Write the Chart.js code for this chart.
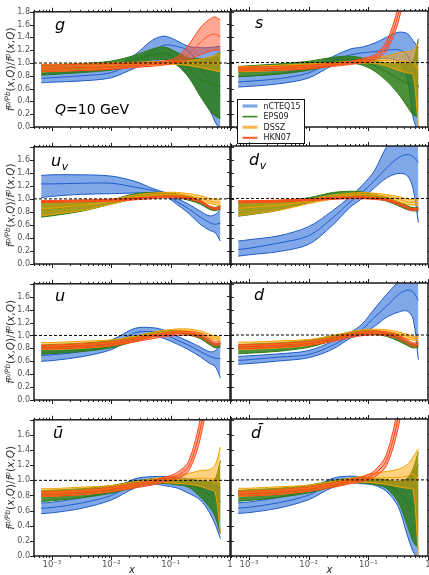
<!DOCTYPE html>
<html><head><meta charset="utf-8">
<script src="https://cdn.jsdelivr.net/npm/chart.js@4.4.1/dist/chart.umd.min.js"></script>
<style>
html,body{margin:0;padding:0;background:#fff;width:429px;height:575px;overflow:hidden;position:relative}
canvas{position:absolute}
</style>
</head><body>
<script>
// ---------- data ----------
const xGrid = [6.6e-4, 1e-3, 3.16e-3, 1e-2, 2.5e-2, 5e-2, 7.9e-2, 0.126, 0.2, 0.316, 0.447, 0.562, 0.69];
const xTickLabels = {'-3':'10⁻³','-2':'10⁻²','-1':'10⁻¹','0':'1'};
const yTicks = [0,0.2,0.4,0.6,0.8,1.0,1.2,1.4,1.6,1.8];
const seriesNames = ['nCTEQ15','EPS09','DSSZ','HKN07'];
// each series: [lower, central, upper]
// g
const g_nCTEQ15 = [[0.69,0.70,0.72,0.77,0.92,1.02,1.05,1.00,0.79,0.52,0.28,0.08,-0.05],
                   [0.76,0.77,0.80,0.85,1.02,1.19,1.28,1.26,1.19,0.92,0.75,0.61,0.48],
                   [0.83,0.84,0.87,0.93,1.13,1.36,1.42,1.35,1.26,1.24,1.24,1.25,1.26]];
const g_EPS09   = [[0.81,0.82,0.85,0.89,0.97,1.05,1.05,0.97,0.78,0.48,0.27,0.17,0.13],
                   [0.88,0.89,0.92,0.96,1.05,1.13,1.15,1.05,0.93,0.75,0.70,0.66,0.64],
                   [0.96,0.97,0.99,1.03,1.12,1.22,1.25,1.17,1.08,1.07,1.08,1.12,1.17]];
const g_DSSZ    = [[0.86,0.87,0.89,0.92,0.95,0.97,0.98,0.98,0.96,0.93,0.90,0.88,0.86],
                   [0.92,0.92,0.94,0.96,0.98,1.00,1.01,1.01,1.00,0.99,0.99,1.00,1.00],
                   [0.98,0.98,0.99,1.00,1.01,1.02,1.03,1.03,1.04,1.06,1.09,1.12,1.15]];
const g_HKN07   = [[0.87,0.87,0.88,0.90,0.93,0.95,0.97,1.00,1.05,1.13,1.18,1.20,1.20],
                   [0.92,0.92,0.93,0.94,0.96,0.98,1.00,1.04,1.14,1.32,1.43,1.45,1.41],
                   [0.97,0.97,0.98,0.99,1.00,1.01,1.03,1.09,1.28,1.55,1.68,1.72,1.67]];
// s
const s_nCTEQ15 = [[0.62,0.63,0.67,0.76,0.95,1.01,1.04,1.05,1.06,1.02,0.75,0.15,-0.10],
                   [0.70,0.71,0.75,0.84,1.02,1.12,1.15,1.17,1.19,1.20,1.12,0.90,0.62],
                   [0.78,0.79,0.83,0.92,1.09,1.21,1.24,1.30,1.39,1.47,1.45,1.34,1.23]];
const s_EPS09   = [[0.78,0.79,0.82,0.88,0.96,0.99,0.96,0.87,0.72,0.52,0.32,0.19,0.15],
                   [0.86,0.87,0.90,0.95,1.02,1.05,1.02,0.95,0.86,0.75,0.68,0.66,0.62],
                   [0.94,0.95,0.98,1.02,1.08,1.10,1.07,1.03,0.99,0.99,0.99,1.02,1.37]];
const s_DSSZ    = [[0.86,0.86,0.88,0.92,0.96,0.98,0.99,0.99,0.95,0.88,0.84,0.81,0.00],
                   [0.90,0.90,0.92,0.95,0.98,1.00,1.01,1.03,1.03,1.02,1.01,1.00,0.90],
                   [0.94,0.94,0.96,0.98,1.00,1.02,1.04,1.08,1.10,1.15,1.17,1.19,1.30]];
const s_HKN07   = [[0.87,0.87,0.88,0.90,0.94,0.97,1.00,1.04,1.18,1.62,2.30,2.90,3.40],
                   [0.90,0.90,0.91,0.93,0.96,0.99,1.03,1.08,1.25,1.74,2.50,3.20,3.80],
                   [0.93,0.93,0.94,0.96,0.99,1.02,1.06,1.12,1.32,1.87,2.70,3.50,4.20]];
// u_v
const uv_nCTEQ15 = [[1.02,1.04,1.07,1.08,1.09,1.09,1.05,0.92,0.78,0.61,0.52,0.48,0.35],
                    [1.23,1.23,1.24,1.24,1.18,1.13,1.07,0.96,0.85,0.72,0.64,0.61,0.63],
                    [1.36,1.37,1.37,1.35,1.27,1.16,1.10,1.01,0.92,0.81,0.74,0.76,0.83]];
const uv_EPS09   = [[0.72,0.74,0.81,0.92,1.00,1.03,1.04,1.02,0.98,0.92,0.84,0.82,0.84],
                    [0.84,0.85,0.89,0.96,1.04,1.07,1.07,1.05,1.01,0.95,0.86,0.84,0.87],
                    [0.96,0.96,0.97,0.99,1.08,1.10,1.10,1.08,1.04,0.98,0.89,0.87,0.90]];
const uv_DSSZ    = [[0.74,0.76,0.82,0.92,1.00,1.03,1.04,1.04,1.02,0.98,0.93,0.91,0.90],
                    [0.85,0.86,0.90,0.96,1.03,1.06,1.07,1.07,1.05,1.01,0.97,0.95,0.95],
                    [0.96,0.96,0.97,0.99,1.06,1.09,1.10,1.10,1.08,1.05,1.01,0.99,0.99]];
const uv_HKN07   = [[0.945,0.945,0.955,0.965,0.985,1.005,1.015,1.015,0.995,0.945,0.865,0.835,0.85],
                    [0.96,0.96,0.97,0.98,1.00,1.02,1.03,1.03,1.01,0.96,0.88,0.85,0.87],
                    [0.975,0.975,0.985,0.995,1.015,1.035,1.045,1.045,1.025,0.975,0.895,0.865,0.89]];
// d_v
const dv_nCTEQ15 = [[0.12,0.14,0.19,0.30,0.59,0.87,1.00,1.16,1.31,1.38,1.35,1.15,0.63],
                    [0.22,0.24,0.32,0.43,0.70,0.95,1.09,1.27,1.46,1.62,1.67,1.64,1.55],
                    [0.35,0.37,0.43,0.57,0.81,1.03,1.20,1.42,1.78,2.00,2.05,2.05,2.00]];
const dv_EPS09   = [[0.73,0.75,0.82,0.94,1.01,1.03,1.02,1.00,0.96,0.89,0.83,0.81,0.81],
                    [0.85,0.86,0.90,0.98,1.05,1.07,1.06,1.03,0.99,0.92,0.86,0.83,0.83],
                    [0.96,0.96,0.97,1.01,1.09,1.11,1.10,1.06,1.02,0.95,0.89,0.86,0.86]];
const dv_DSSZ    = [[0.74,0.76,0.82,0.92,0.99,1.02,1.03,1.02,0.99,0.95,0.91,0.90,0.89],
                    [0.85,0.86,0.90,0.96,1.02,1.05,1.06,1.05,1.03,0.99,0.95,0.94,0.94],
                    [0.96,0.96,0.97,0.99,1.05,1.08,1.09,1.08,1.06,1.03,0.99,0.98,0.98]];
const dv_HKN07   = [[0.935,0.935,0.945,0.965,0.985,0.995,0.995,0.985,0.965,0.905,0.845,0.815,0.825],
                    [0.95,0.95,0.96,0.98,1.00,1.01,1.01,1.00,0.98,0.92,0.86,0.83,0.84],
                    [0.965,0.965,0.975,0.995,1.015,1.025,1.025,1.015,0.995,0.935,0.875,0.845,0.855]];
// u
const u_nCTEQ15 = [[0.60,0.61,0.67,0.78,0.97,1.00,0.95,0.87,0.78,0.67,0.57,0.52,0.34],
                   [0.69,0.70,0.75,0.85,1.04,1.06,1.02,0.93,0.85,0.75,0.68,0.65,0.64],
                   [0.79,0.80,0.84,0.93,1.11,1.12,1.08,0.99,0.91,0.82,0.75,0.76,0.89]];
const u_EPS09   = [[0.71,0.72,0.75,0.81,0.91,0.98,1.02,1.03,1.01,0.95,0.86,0.81,0.82],
                   [0.78,0.79,0.82,0.87,0.95,1.01,1.04,1.05,1.03,0.97,0.89,0.84,0.85],
                   [0.85,0.86,0.88,0.92,0.99,1.04,1.07,1.08,1.05,0.99,0.92,0.87,0.88]];
const u_DSSZ    = [[0.78,0.78,0.80,0.84,0.92,0.99,1.02,1.04,1.04,1.01,0.96,0.93,0.92],
                   [0.84,0.84,0.86,0.89,0.96,1.02,1.05,1.07,1.07,1.04,0.99,0.96,0.95],
                   [0.89,0.89,0.91,0.93,0.99,1.05,1.08,1.10,1.10,1.07,1.02,0.99,0.98]];
const u_HKN07   = [[0.79,0.79,0.81,0.84,0.90,0.95,0.98,1.00,1.00,0.97,0.89,0.84,0.85],
                   [0.82,0.82,0.84,0.87,0.93,0.98,1.01,1.03,1.03,1.00,0.92,0.87,0.88],
                   [0.85,0.85,0.87,0.90,0.96,1.01,1.04,1.06,1.06,1.03,0.95,0.90,0.91]];
// d
const d_nCTEQ15 = [[0.55,0.56,0.60,0.65,0.78,0.95,1.02,1.13,1.27,1.35,1.37,1.25,0.62],
                   [0.61,0.62,0.66,0.70,0.84,0.99,1.09,1.27,1.44,1.62,1.69,1.66,1.53],
                   [0.67,0.68,0.71,0.76,0.90,1.04,1.17,1.40,1.62,1.82,2.00,2.05,2.00]];
const d_EPS09   = [[0.71,0.72,0.75,0.81,0.91,0.98,1.01,1.01,0.98,0.91,0.84,0.80,0.81],
                   [0.78,0.79,0.82,0.87,0.95,1.01,1.04,1.04,1.01,0.94,0.87,0.83,0.84],
                   [0.85,0.86,0.88,0.92,0.99,1.04,1.07,1.07,1.04,0.97,0.90,0.86,0.87]];
const d_DSSZ    = [[0.78,0.78,0.80,0.84,0.92,0.99,1.02,1.03,1.02,0.98,0.94,0.92,0.91],
                   [0.84,0.84,0.86,0.89,0.96,1.02,1.05,1.06,1.05,1.02,0.98,0.95,0.95],
                   [0.89,0.89,0.91,0.93,0.99,1.05,1.08,1.09,1.08,1.05,1.01,0.98,0.98]];
const d_HKN07   = [[0.79,0.79,0.81,0.84,0.90,0.96,0.99,1.00,0.99,0.94,0.87,0.82,0.83],
                   [0.82,0.82,0.84,0.87,0.93,0.99,1.02,1.03,1.02,0.97,0.90,0.85,0.86],
                   [0.85,0.85,0.87,0.90,0.96,1.02,1.05,1.06,1.05,1.00,0.93,0.88,0.89]];
// u-bar
const ub_nCTEQ15 = [[0.56,0.57,0.63,0.74,0.90,0.95,0.93,0.90,0.83,0.74,0.58,0.42,0.23],
                    [0.63,0.64,0.70,0.80,0.96,1.00,1.00,0.98,0.95,0.91,0.87,0.80,0.71],
                    [0.70,0.71,0.77,0.87,1.02,1.05,1.05,1.04,1.02,0.99,0.96,0.93,0.90]];
const ub_EPS09   = [[0.72,0.73,0.77,0.83,0.91,0.96,0.96,0.94,0.91,0.78,0.65,0.52,0.30],
                    [0.79,0.80,0.83,0.88,0.95,0.99,1.00,0.98,0.95,0.89,0.80,0.74,0.72],
                    [0.86,0.87,0.89,0.93,0.99,1.02,1.03,1.02,1.00,1.00,0.98,1.02,1.26]];
const ub_DSSZ    = [[0.78,0.79,0.81,0.85,0.92,0.96,0.97,0.96,0.95,0.92,0.88,0.84,0.30],
                    [0.84,0.84,0.86,0.89,0.95,0.99,1.01,1.01,1.02,1.03,1.02,1.02,0.95],
                    [0.89,0.89,0.91,0.93,0.98,1.02,1.04,1.06,1.09,1.13,1.14,1.20,1.44]];
const ub_HKN07   = [[0.79,0.79,0.81,0.85,0.90,0.94,0.98,1.02,1.12,1.55,2.25,2.95,3.60],
                    [0.82,0.82,0.84,0.88,0.93,0.97,1.01,1.06,1.18,1.68,2.45,3.25,4.00],
                    [0.85,0.85,0.87,0.91,0.96,1.00,1.04,1.10,1.25,1.82,2.65,3.55,4.40]];
// d-bar
const db_nCTEQ15 = [[0.56,0.57,0.63,0.74,0.90,0.96,0.95,0.93,0.85,0.65,0.28,0.06,-0.05],
                    [0.63,0.64,0.70,0.80,0.96,1.00,1.00,0.98,0.93,0.85,0.74,0.67,0.60],
                    [0.70,0.71,0.77,0.87,1.02,1.05,1.04,1.02,1.00,0.98,1.02,1.10,1.20]];
const db_EPS09   = [[0.72,0.73,0.77,0.83,0.91,0.96,0.96,0.94,0.89,0.71,0.41,0.19,0.10],
                    [0.79,0.80,0.83,0.88,0.95,0.99,1.00,0.99,0.95,0.85,0.69,0.54,0.49],
                    [0.86,0.87,0.89,0.93,0.99,1.02,1.03,1.02,1.00,0.98,1.02,1.15,1.37]];
const db_DSSZ    = [[0.78,0.79,0.81,0.85,0.92,0.96,0.97,0.96,0.94,0.91,0.89,0.87,0.00],
                    [0.84,0.84,0.86,0.89,0.95,0.99,1.01,1.02,1.03,1.03,1.05,1.08,1.00],
                    [0.89,0.89,0.91,0.93,0.98,1.02,1.05,1.09,1.11,1.14,1.20,1.30,1.41]];
const db_HKN07   = [[0.79,0.79,0.81,0.85,0.90,0.95,0.98,1.04,1.18,1.68,2.40,3.10,3.80],
                    [0.82,0.82,0.84,0.88,0.93,0.98,1.01,1.08,1.25,1.82,2.60,3.40,4.20],
                    [0.85,0.85,0.87,0.91,0.96,1.01,1.04,1.12,1.33,1.97,2.80,3.70,4.60]];

const panelLabels = [['g',''],['s',''],['u','v'],['d','v'],['u',''],['d',''],['ū',''],['d̄','']];
const panelSeries = [
  [g_nCTEQ15, g_EPS09, g_DSSZ, g_HKN07],
  [s_nCTEQ15, s_EPS09, s_DSSZ, s_HKN07],
  [uv_nCTEQ15, uv_EPS09, uv_DSSZ, uv_HKN07],
  [dv_nCTEQ15, dv_EPS09, dv_DSSZ, dv_HKN07],
  [u_nCTEQ15, u_EPS09, u_DSSZ, u_HKN07],
  [d_nCTEQ15, d_EPS09, d_DSSZ, d_HKN07],
  [ub_nCTEQ15, ub_EPS09, ub_DSSZ, ub_HKN07],
  [db_nCTEQ15, db_EPS09, db_DSSZ, db_HKN07]
];

// ---------- styles & layout ----------
const setStyles = [
  {fill:'rgba(60,120,220,0.65)', line:'#1f5cc8', legend:'#7ba6e6', lw:3.2},
  {fill:'rgba(45,125,25,0.85)',  line:'#2a7a12', legend:'#3a8a22', lw:1.6},
  {fill:'rgba(255,165,0,0.5)',   line:'#f5a000', legend:'#fbb548', lw:3},
  {fill:'rgba(255,80,40,0.5)',   line:'#ff4a1a', legend:'#ff5a2a', lw:2}
];
const rowsY = [[11,146],[146,283],[283,419],[419,556]];
const colsX = [[34,230],[231,428]];
const labelOffsets = [[21,18],[24,17],[17,19],[18,19],[21,17],[23,17],[19,18],[20,19]];
const FONT = '"DejaVu Sans", sans-serif';

const xAllTicks = [];
for (let k = -4; k <= 0; k++) for (let m = 1; m <= 9; m++) {
  const v = Number((m * Math.pow(10, k)).toPrecision(6));
  if (v >= 5e-4 && v <= 1) xAllTicks.push(v);
}
function decadeOf(v){ const l = Math.log10(v); return Math.abs(l - Math.round(l)) < 1e-9 ? Math.round(l) : null; }

function drawRich(ctx, segs, size) {
  let total = 0;
  const parts = segs.map(([t, kind]) => {
    const sz = kind === 'sup' ? size*0.7 : size;
    const style = (kind === 'i' || kind === 'sup') ? 'italic ' : '';
    ctx.font = style + sz + 'px ' + FONT;
    const w = ctx.measureText(t).width;
    total += w;
    return {t, kind, font: ctx.font, w};
  });
  let x = -total/2;
  for (const p of parts) {
    ctx.font = p.font;
    ctx.fillText(p.t, x, p.kind === 'sup' ? -size*0.42 : 0);
    x += p.w;
  }
}

const decorPlugin = {
  id: 'decor',
  afterDatasetsDraw(chart) {
    const o = chart.options.plugins.decor;
    const {ctx, chartArea: a} = chart;
    const xs = chart.scales.x, ys = chart.scales.y;
    ctx.save();
    ctx.strokeStyle = '#222'; ctx.lineWidth = 1;
    ctx.beginPath();
    for (const v of xAllTicks) {
      const px = Math.round(xs.getPixelForValue(v)) + 0.5;
      if (px < a.left - 0.5 || px > a.right + 1) continue;
      const L = decadeOf(v) !== null ? 4 : 2;
      ctx.moveTo(px, a.bottom); ctx.lineTo(px, a.bottom + L);
      ctx.moveTo(px, a.top); ctx.lineTo(px, a.top - L);
    }
    for (const v of yTicks) {
      const py = Math.round(ys.getPixelForValue(v)) + 0.5;
      ctx.moveTo(a.left, py); ctx.lineTo(a.left - 4, py);
      ctx.moveTo(a.right, py); ctx.lineTo(a.right + 4, py);
    }
    ctx.stroke();
    ctx.lineWidth = 1.5; ctx.strokeStyle = '#1a1a1a';
    ctx.strokeRect(a.left, a.top, a.right - a.left, a.bottom - a.top);

    const [main, sub] = panelLabels[o.index];
    const [dx, dy] = labelOffsets[o.index];
    ctx.fillStyle = '#000';
    ctx.textBaseline = 'alphabetic'; ctx.textAlign = 'left';
    ctx.font = 'italic 16px ' + FONT;
    ctx.fillText(main, a.left + dx, a.top + dy);
    if (sub) {
      const w = ctx.measureText(main).width;
      ctx.font = 'italic 11px ' + FONT;
      ctx.fillText(sub, a.left + dx + w + 0.5, a.top + dy + 4);
    }
    if (o.index === 0) {
      ctx.font = 'italic 14px ' + FONT;
      ctx.fillText('Q', a.left + 21, a.bottom - 13);
      const w = ctx.measureText('Q').width;
      ctx.font = '14px ' + FONT;
      ctx.fillText('=10 GeV', a.left + 21 + w, a.bottom - 13);
    }
    if (o.index === 1) {
      const bx = a.left + 6.5, by = a.top + 88.5, bw = 67, bh = 44;
      ctx.fillStyle = '#fff'; ctx.fillRect(bx, by, bw, bh);
      ctx.strokeStyle = '#111'; ctx.lineWidth = 1; ctx.strokeRect(bx, by, bw, bh);
      ctx.font = '8px ' + FONT; ctx.textBaseline = 'middle';
      seriesNames.forEach((n, k) => {
        const yy = by + 6.5 + k * 10.6;
        ctx.strokeStyle = setStyles[k].legend; ctx.lineWidth = setStyles[k].lw;
        ctx.beginPath(); ctx.moveTo(bx + 5, yy); ctx.lineTo(bx + 20, yy); ctx.stroke();
        ctx.fillStyle = '#222';
        ctx.fillText(n, bx + 26, yy + 0.5);
      });
    }
    if (o.col === 0) {
      ctx.save();
      ctx.translate(14, (a.top + a.bottom) / 2);
      ctx.rotate(-Math.PI / 2);
      ctx.fillStyle = '#333'; ctx.textBaseline = 'alphabetic';
      drawRich(ctx, [['f','i'],['p/Pb','sup'],['(','n'],['x','i'],[',','n'],['Q','i'],[')/','n'],
                     ['f','i'],['p','sup'],['(','n'],['x','i'],[',','n'],['Q','i'],[')','n']], 10.5);
      ctx.restore();
    }
    if (o.row === 3) {
      ctx.fillStyle = '#222'; ctx.textAlign = 'center'; ctx.textBaseline = 'alphabetic';
      ctx.font = 'italic 10px ' + FONT;
      ctx.fillText('x', (a.left + a.right) / 2, a.bottom + 17);
    }
    ctx.restore();
  }
};

panelSeries.forEach((series, idx) => {
  const row = Math.floor(idx / 2), col = idx % 2;
  const [top, bottom] = rowsY[row];
  const [left, right] = colsX[col];
  const isBottom = row === 3;
  const padT = 8, padB = isBottom ? 0 : 8, xAxisH = isBottom ? 19 : 0;
  const cTop = top - padT;
  const cH = (bottom - top) + padT + padB + xAxisH;
  let cLeft, padL, yAxisW;
  const padR = 15;
  if (col === 0) { cLeft = 0; padL = 0; yAxisW = left; }
  else { cLeft = left - 8; padL = 8; yAxisW = 0; }
  const cW = right - cLeft + padR;

  const cv = document.createElement('canvas');
  cv.width = cW; cv.height = cH;
  cv.style.left = cLeft + 'px'; cv.style.top = cTop + 'px';
  cv.style.width = cW + 'px'; cv.style.height = cH + 'px';
  document.body.appendChild(cv);

  const datasets = [];
  series.forEach((ser, k) => {
    const st = setStyles[k];
    const [lo, c, hi] = ser;
    const pts = arr => xGrid.map((x, i) => ({x, y: arr[i]}));
    const base = {pointRadius: 0, borderWidth: 1, borderColor: st.line, tension: 0.32};
    datasets.push({...base, data: pts(lo), fill: '+1', backgroundColor: st.fill});
    datasets.push({...base, data: pts(hi), fill: false});
    datasets.push({...base, data: pts(c), fill: false});
  });
  datasets.push({data: [{x: 5e-4, y: 1}, {x: 1, y: 1}], borderColor: '#000', borderWidth: 1,
                 borderDash: [3, 2], pointRadius: 0, fill: false});
  datasets.forEach((d, i) => { d.order = datasets.length - i; });

  new Chart(cv, {
    type: 'line',
    data: {datasets},
    options: {
      responsive: false, animation: false, devicePixelRatio: 1,
      events: [],
      layout: {padding: {top: padT, bottom: padB, left: padL, right: padR}},
      plugins: {legend: {display: false}, tooltip: {enabled: false},
                decor: {index: idx, row, col}},
      scales: {
        x: {type: 'logarithmic', min: 5e-4, max: 1, display: isBottom,
            grid: {display: false, drawTicks: false, tickLength: 0}, border: {display: false},
            afterBuildTicks: s => { s.ticks = xAllTicks.map(v => ({value: v})); },
            afterFit: s => { s.height = 19; },
            ticks: {autoSkip: false, maxRotation: 0, minRotation: 0, padding: 4, color: '#555',
                    font: {family: 'DejaVu Sans', size: 8.5},
                    callback: v => { const d = decadeOf(v); return d === null ? '' : xTickLabels[String(d)]; }}},
        y: {type: 'linear', min: 0, max: 1.8, display: col === 0,
            grid: {display: false, drawTicks: false, tickLength: 0}, border: {display: false},
            afterFit: s => { s.width = yAxisW; },
            ticks: {stepSize: 0.2, padding: 4, color: '#555', font: {family: 'DejaVu Sans', size: 8},
                    callback: v => (row > 0 && v > 1.75) ? '' : Number(v).toFixed(1)}}
      }
    },
    plugins: [decorPlugin]
  });
});
</script>
</body></html>
